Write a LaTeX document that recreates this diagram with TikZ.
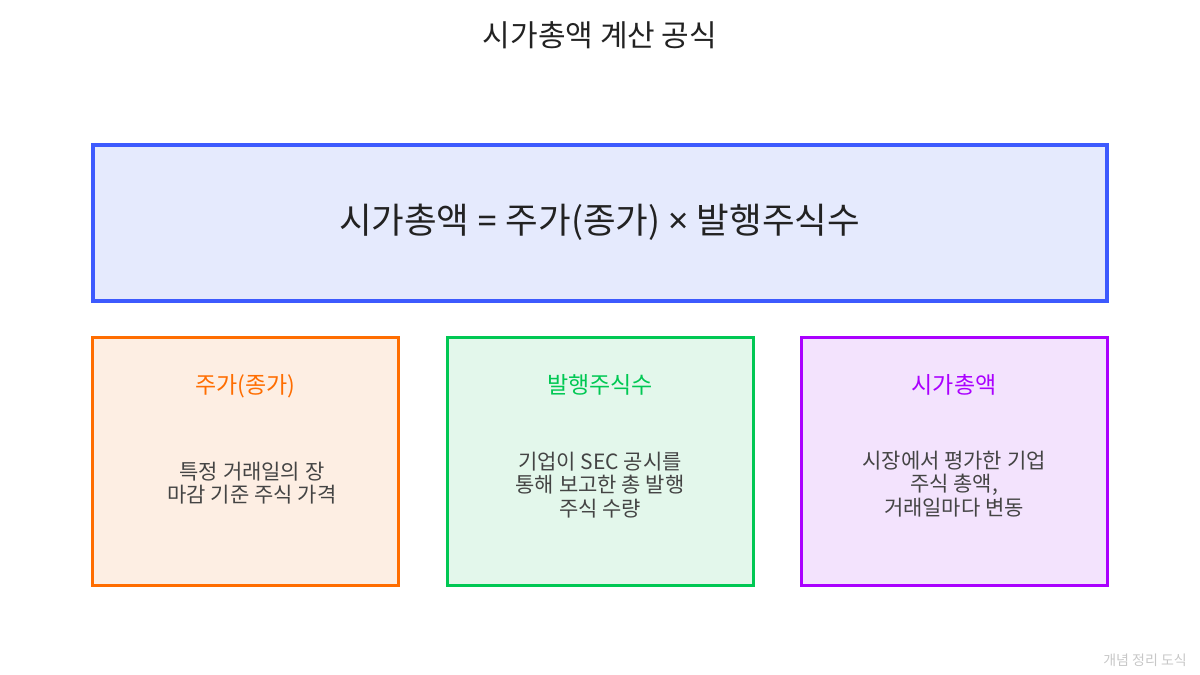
\documentclass[tikz,border=0pt]{standalone}
\usepackage{fontspec}
\setmainfont{Noto Sans CJK KR}
\newfontfamily\latinfont{Noto Sans}
\usetikzlibrary{positioning}

\definecolor{inkdark}{HTML}{222222}
\definecolor{inkbody}{HTML}{444444}
\definecolor{formulaline}{HTML}{3D5AFE}
\definecolor{formulafill}{HTML}{E5EAFD}
\definecolor{priceline}{HTML}{FF6D00}
\definecolor{pricefill}{HTML}{FDEEE3}
\definecolor{sharesline}{HTML}{00C853}
\definecolor{sharesfill}{HTML}{E3F7EB}
\definecolor{capline}{HTML}{AA00FF}
\definecolor{capfill}{HTML}{F3E3FD}

\begin{document}
\begin{tikzpicture}[x=1pt,y=-1pt,
		box/.style={rectangle,draw,inner sep=0pt},
		card/.style={box,line width=3pt,minimum width=306pt,minimum height=248pt},
		cardtitle/.style={inner sep=0pt,font=\fontsize{23}{27}\selectfont},
		cardtext/.style={inner sep=0pt,align=center,text=inkbody,font=\fontsize{21}{23.5}\selectfont}]
		\useasboundingbox (0,0) rectangle (1200,675);
		\node [inner sep=0pt,text=inkdark,font=\fontsize{30}{34}\selectfont] (title) at (600,35) {시가총액 계산 공식};

		\node [box,line width=4pt,draw=formulaline,fill=formulafill,minimum width=1014pt,minimum height=156pt] (formula) at (599.5,222.5) {};
		\node [inner sep=0pt,text=inkdark,font=\fontsize{35.5}{40}\selectfont] (formula-text) at (formula.center) {시가총액 {\latinfont =} 주가(종가) {\latinfont ×} 발행주식수};

		% three cards under the formula
		\node [card,draw=priceline,fill=pricefill] (price) at (245.5,461) {};
		\node [card,draw=sharesline,fill=sharesfill] (shares) at (600,461) {};
		\node [card,draw=capline,fill=capfill] (cap) at (954,461) {};

		\node [cardtitle,text=priceline] (price-title) [below=39pt of price.north] {주가(종가)};
		\node [cardtitle,text=sharesline] (shares-title) [below=39pt of shares.north] {발행주식수};
		\node [cardtitle,text=capline] (cap-title) [below=39pt of cap.north] {시가총액};

		\node [cardtext] (price-text) at (252,483) {특정 거래일의 장\\마감 기준 주식 가격};
		\node [cardtext] (shares-text) at (600,485) {기업이 SEC 공시를\\통해 보고한 총 발행\\주식 수량};
		\node [cardtext] (cap-text) at (954,484) {시장에서 평가한 기업\\주식 총액,\\거래일마다 변동};

		\node [anchor=east,inner sep=0pt,text=black!22,font=\fontsize{14}{16}\selectfont] (mark) at (1187,660) {개념 정리 도식};
	\end{tikzpicture}
\end{document}
